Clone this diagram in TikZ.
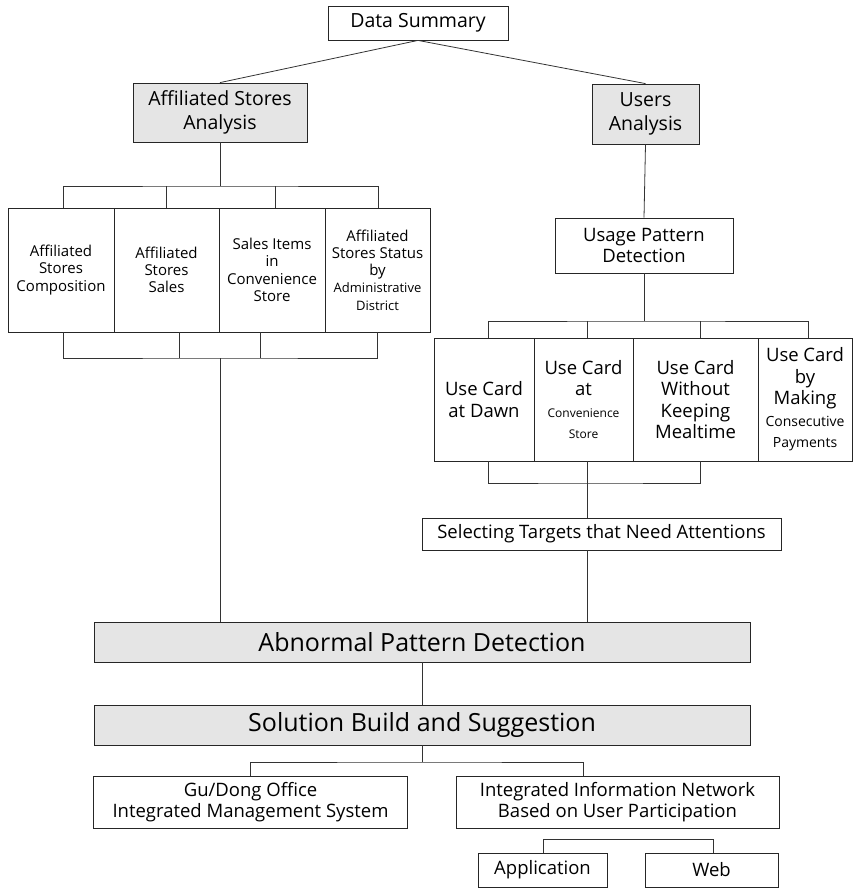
\documentclass[tikz,border=0pt]{standalone}
\usepackage{fontspec}
\setmainfont{Open Sans}
\usetikzlibrary{calc}

\begin{document}
\begin{tikzpicture}[x=1pt, y=-1pt,
    box/.style={draw=black!85, line width=0.8pt, align=center, inner sep=1pt},
    greybox/.style={box, fill=black!10},
    link/.style={draw=black!80, line width=0.8pt},
    big/.style={font=\fontsize{19.5}{24.5}\selectfont},
    mid/.style={font=\fontsize{18.5}{21.5}\selectfont},
    small/.style={font=\fontsize{15}{17.3}\selectfont},
    huge/.style={font=\fontsize{25}{28}\selectfont}]
    \useasboundingbox (0,0) rectangle (853,888);

    % Top
    \node[box, big, minimum width=180, minimum height=34] (sum) at (418,23) {Data Summary};
    \node[greybox, big, minimum width=174, minimum height=59] (asa) at (220,112.5) {Affiliated Stores\\Analysis};
    \node[greybox, big, minimum width=107, minimum height=60] (ua) at (645.5,114) {Users\\Analysis};
    \draw[link] (sum.south) -- (asa.north);
    \draw[link] (sum.south) -- (ua.north);

    % Affiliated stores branch
    \node[box, small, minimum width=106, minimum height=124] (a1) at (61,270) {Affiliated\\Stores\\Composition};
    \node[box, small, minimum width=105, minimum height=124] (a2) at (166.5,270) {Affiliated\\Stores\\Sales};
    \node[box, small, minimum width=106, minimum height=124] (a3) at (272,270) {Sales Items\\in\\Convenience\\Store};
    \node[box, small, minimum width=105, minimum height=124] (a4) at (377.5,270)
        {Affiliated\\Stores Status\\by\\{\fontsize{13}{15}\selectfont Administrative}\\{\fontsize{13}{15}\selectfont District}};
    \coordinate (atop) at (220,186);
    \coordinate (abot) at (220,358);
    \draw[link] (asa.south) -- (atop);
    \draw[link] ([xshift=2]a1.north) |- (atop) -| ([xshift=0.5]a4.north);
    \draw[link] (a2.north) -- (a2.north |- atop);
    \draw[link] ([xshift=3]a3.north) -- ([xshift=3]a3.north |- atop);
    \draw[link] ([xshift=2]a1.south) |- (abot) -| ([xshift=-0.5]a4.south);
    \draw[link] ([xshift=12.5]a2.south) -- ([xshift=12.5]a2.south |- abot);
    \draw[link] ([xshift=-12]a3.south) -- ([xshift=-12]a3.south |- abot);

    % Users branch
    \node[box, mid, minimum width=178, minimum height=55] (upd) at (644,245.5) {Usage Pattern\\Detection};
    \draw[link] (ua.south) -- (upd.north);
    \node[box, mid, minimum width=100, minimum height=123] (u1) at (484,399.5) {Use Card\\at Dawn};
    \node[box, mid, minimum width=99, minimum height=123] (u2) at (583.5,399.5)
        {Use Card\\at\\{\fontsize{12}{14.5}\selectfont Convenience}\\{\fontsize{12}{14.5}\selectfont Store}};
    \node[box, mid, minimum width=125, minimum height=123] (u3) at (695.5,399.5) {Use Card\\Without\\Keeping\\Mealtime};
    \node[box, mid, minimum width=94, minimum height=123] (u4) at (805,399.5)
        {Use Card\\by\\Making\\{\fontsize{14}{16}\selectfont Consecutive}\\{\fontsize{14}{16}\selectfont Payments}};
    \coordinate (utop) at (644,321);
    \coordinate (ubot) at (587,483);
    \draw[link] (upd.south) -- (utop);
    \draw[link] ([xshift=4]u1.north) |- (utop) -| ([xshift=3]u4.north);
    \draw[link] ([xshift=3.5]u2.north) -- ([xshift=3.5]u2.north |- utop);
    \draw[link] ([xshift=5]u3.north) -- ([xshift=5]u3.north |- utop);
    \draw[link] ([xshift=4]u1.south) |- (ubot) -| ([xshift=4.5]u3.south);
    \draw[link] ([xshift=3.5]u2.south) -- (ubot);
    \node[box, mid, minimum width=359, minimum height=32] (sel) at (601.5,534) {Selecting Targets that Need Attentions};
    \draw[link] (ubot) -- (ubot |- sel.north);

    % Bottom
    \node[greybox, huge, minimum width=656, minimum height=40] (apd) at (422,642) {Abnormal Pattern Detection};
    \node[greybox, huge, minimum width=656, minimum height=40] (sbs) at (422,725) {Solution Build and Suggestion};
    \draw[link] (abot) -- (abot |- apd.north);
    \draw[link] (ubot |- sel.south) -- (ubot |- apd.north);
    \draw[link] (apd.south) -- (sbs.north);

    \node[box, mid, minimum width=314, minimum height=52] (gdo) at (250.5,802) {Gu/Dong Office\\Integrated Management System};
    \node[box, mid, minimum width=323, minimum height=52] (iin) at (617.5,802) {Integrated Information Network\\Based on User Participation};
    \coordinate (stop) at (422,762);
    \draw[link] (sbs.south) -- (stop);
    \draw[link] (gdo.north) |- (stop) -| ([xshift=-34.5]iin.north);

    \node[box, mid, minimum width=129, minimum height=34] (app) at (542.5,870) {Application};
    \node[box, mid, minimum width=133, minimum height=34] (web) at (711.5,870) {Web};
    \coordinate (wtop) at (628,839);
    \draw[link] ([xshift=1]app.north) |- (wtop) -| ([xshift=1.5]web.north);
\end{tikzpicture}
\end{document}
